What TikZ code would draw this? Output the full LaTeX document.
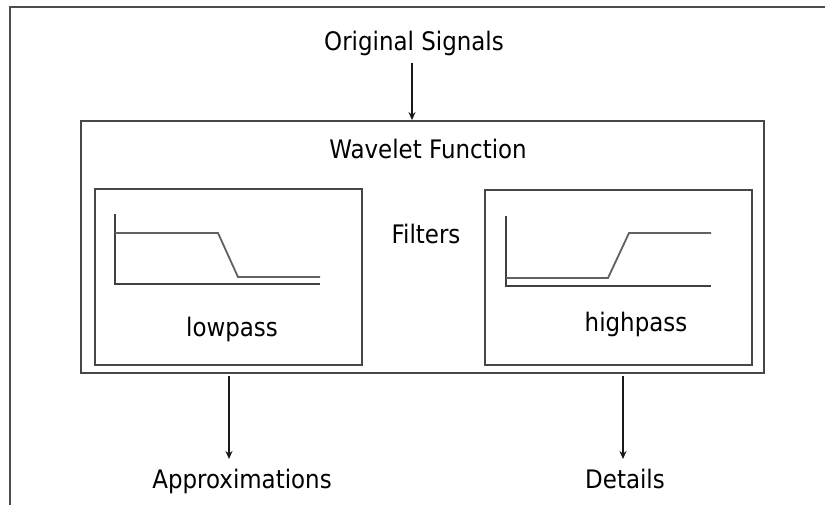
\documentclass[tikz,border=0pt]{standalone}
\usepackage{fontspec}
\setmainfont{DejaVu Sans}[FakeStretch=0.9]
\usetikzlibrary{arrows.meta}
\begin{document}
\begin{tikzpicture}[x=1pt,y=-1pt,
  lbl/.style={inner sep=0pt,anchor=base,font=\fontsize{25.5}{30}\selectfont,text=black},
  boxed/.style={draw=black!72,line width=1.8pt,inner sep=0pt},
  conn/.style={draw=black!90,line width=1.3pt,-{Stealth[length=8pt,width=7pt]}},
  axis/.style={draw=black!75,line width=1.8pt},
  resp/.style={draw=black!62,line width=1.8pt,line join=miter}]
\useasboundingbox (0,0) rectangle (825,504);
\fill[white] (0,0) rectangle (825,504);
% outer frame (continues beyond the right and bottom edges)
\draw[draw=black!70,line width=2.6pt] (835,7) -- (10,7) -- (10,514);
% boxes
\node[boxed,minimum width=683pt,minimum height=252pt] (wf) at (422.5,247) {};
\node[boxed,minimum width=267pt,minimum height=176pt] (lp) at (228.5,277) {};
\node[boxed,minimum width=267pt,minimum height=175pt] (hp) at (618.5,277.5) {};
% texts
\node[lbl] (orig) at (414,50) {Original Signals};
\node[lbl] (wft) at (428,158) {Wavelet Function};
\node[lbl] (filt) at (426,243) {Filters};
\node[lbl] (lpt) at (232,336) {lowpass};
\node[lbl] (hpt) at (636,331) {highpass};
\node[lbl] (apx) at (242,488) {Approximations};
\node[lbl] (det) at (625,488) {Details};
% lowpass response
\draw[axis] (115,214) -- (115,284) -- (320,284);
\draw[resp] (115,233) -- (218,233) -- (238,277) -- (320,277);
% highpass response
\draw[axis] (506,216) -- (506,286) -- (711,286);
\draw[resp] (506,278) -- (608,278) -- (629,233) -- (711,233);
% connectors
\coordinate (o1) at (412,63);
\coordinate (a1) at (229,376);
\coordinate (a2) at (229,459);
\coordinate (d1) at (623,376);
\coordinate (d2) at (623,459);
\draw[conn] (o1) -- (o1 |- wf.north);
\draw[conn] (a1) -- (a2);
\draw[conn] (d1) -- (d2);
\end{tikzpicture}
\end{document}
